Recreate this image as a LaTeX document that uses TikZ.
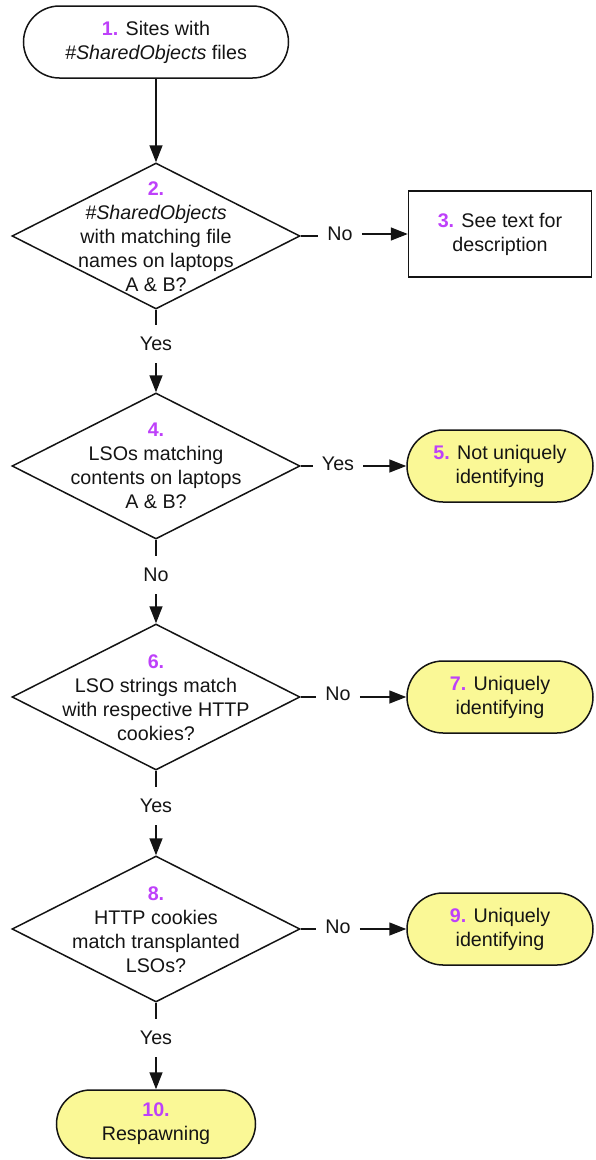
\documentclass[tikz,border=0pt]{standalone}
\usepackage{fontspec}
\setmainfont{Liberation Sans}
\usetikzlibrary{shapes.geometric,shapes.misc,arrows.meta}
\definecolor{numc}{RGB}{190,64,250}
\definecolor{termy}{RGB}{250,248,150}
\definecolor{ink}{RGB}{20,20,20}
\newcommand{\nm}[1]{{\bfseries\color{numc}#1}}
\tikzset{
  base/.style={draw=ink, line width=1.5pt, text=ink, font=\fontsize{19.7}{24}\selectfont, align=center, inner sep=0pt},
  term/.style={base, rounded rectangle, minimum height=72pt},
  yterm/.style={term, fill=termy},
  dia/.style={draw=ink, line width=1.5pt, diamond, minimum width=288pt, minimum height=146pt, inner sep=0pt},
  dtext/.style={text=ink, font=\fontsize{19.7}{24}\selectfont, align=center, inner sep=0pt},
  lab/.style={text=ink, font=\fontsize{19.7}{24}\selectfont, inner xsep=9pt, inner ysep=12pt},
  conn/.style={draw=ink, line width=1.5pt},
  arr/.style={conn, -{Triangle[length=17pt,width=13pt]}}
}
\begin{document}
\begin{tikzpicture}[x=1pt,y=-1pt]
\useasboundingbox (0,0) rectangle (595,1160);
% nodes
\node[term, fill=white, minimum width=265pt] (n1) at (156,42) {\nm{1.} Sites with\\\textit{\#SharedObjects} files};
\node[dia] (d2) at (156,236) {};
\node[dtext] (t2) at (156,237) {\nm{2.}\\\textit{\#SharedObjects}\\with matching file\\names on laptops\\A \& B?};
\node[base, rectangle, minimum width=183pt, minimum height=86pt] (b3) at (500,234) {\nm{3.} See text for\\description};
\node[dia] (d4) at (156,466) {};
\node[dtext] (t4) at (156,466) {\nm{4.}\\LSOs matching\\contents on laptops\\A \& B?};
\node[yterm, minimum width=186pt] (n5) at (500,466) {\nm{5.} Not uniquely\\identifying};
\node[dia] (d6) at (156,697) {};
\node[dtext] (t6) at (156,698) {\nm{6.}\\LSO strings match\\with respective HTTP\\cookies?};
\node[yterm, minimum width=186pt] (n7) at (500,697) {\nm{7.} Uniquely\\identifying};
\node[dia] (d8) at (156,929) {};
\node[dtext] (t8) at (156,930) {\nm{8.}\\HTTP cookies\\match transplanted\\LSOs?};
\node[yterm, minimum width=186pt] (n9) at (500,929) {\nm{9.} Uniquely\\identifying};
\node[yterm, minimum width=199pt, minimum height=68pt] (n10) at (156,1124) {\nm{10.}\\Respawning};
% labels
\node[lab] (l2) at (340,234) {No};
\node[lab] (l2y) at (156,344) {Yes};
\node[lab] (l4) at (338,464) {Yes};
\node[lab] (l4n) at (156,575) {No};
\node[lab] (l6) at (338,694) {No};
\node[lab] (l6y) at (156,806) {Yes};
\node[lab] (l8) at (338,927) {No};
\node[lab] (l8y) at (156,1038) {Yes};
% connectors
\draw[arr] (n1.south) -- (d2.north);
\draw[conn] (d2.east) -- (l2.west |- d2.east);
\draw[arr] (l2.east |- b3.west) -- (b3.west);
\draw[conn] (d2.south) -- (l2y.north);
\draw[arr] (l2y.south) -- (d4.north);
\draw[conn] (d4.east) -- (l4.west |- d4.east);
\draw[arr] (l4.east |- n5.west) -- (n5.west);
\draw[conn] (d4.south) -- (l4n.north);
\draw[arr] (l4n.south) -- (d6.north);
\draw[conn] (d6.east) -- (l6.west |- d6.east);
\draw[arr] (l6.east |- n7.west) -- (n7.west);
\draw[conn] (d6.south) -- (l6y.north);
\draw[arr] (l6y.south) -- (d8.north);
\draw[conn] (d8.east) -- (l8.west |- d8.east);
\draw[arr] (l8.east |- n9.west) -- (n9.west);
\draw[conn] (d8.south) -- (l8y.north);
\draw[arr] (l8y.south) -- (n10.north);
\end{tikzpicture}
\end{document}
